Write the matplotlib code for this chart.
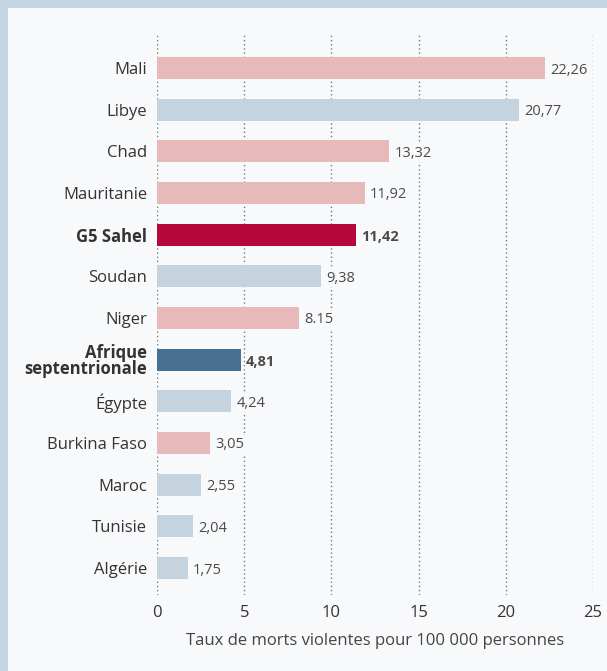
import matplotlib.pyplot as plt
import matplotlib.patches as patches
import numpy as np

plt.rcParams['font.family'] = ['Open Sans', 'DejaVu Sans']

# data
pays = ['Mali', 'Libye', 'Chad', 'Mauritanie', 'G5 Sahel', 'Soudan', 'Niger',
        'Afrique\nseptentrionale', 'Égypte', 'Burkina Faso', 'Maroc', 'Tunisie', 'Algérie']
taux = [22.26, 20.77, 13.32, 11.92, 11.42, 9.38, 8.15, 4.81, 4.24, 3.05, 2.55, 2.04, 1.75]
etiquettes = ['22,26', '20,77', '13,32', '11,92', '11,42', '9,38', '8.15',
              '4,81', '4,24', '3,05', '2,55', '2,04', '1,75']
groupe = ['sahel', 'nord', 'sahel', 'sahel', 'g5', 'nord', 'sahel',
          'afn', 'nord', 'sahel', 'nord', 'nord', 'nord']

couleurs = {'sahel': '#e8b9b9', 'nord': '#c5d3df', 'g5': '#b5083a', 'afn': '#4a7090'}
gras = ['G5 Sahel', 'Afrique\nseptentrionale']

fig = plt.figure(figsize=(6.07, 6.71), dpi=100)
fig.patch.set_facecolor('#f8f9fb')
# bordure haut/gauche
fig.patches.append(patches.Rectangle((0, 1 - 8 / 671), 1, 8 / 671, transform=fig.transFigure,
                                     facecolor='#c5d5e2', edgecolor='none', zorder=0))
fig.patches.append(patches.Rectangle((0, 0), 8 / 607, 1, transform=fig.transFigure,
                                     facecolor='#c5d5e2', edgecolor='none', zorder=0))

ax = fig.add_axes([157 / 607, 1 - 595 / 671, (593 - 157) / 607, (595 - 35) / 671])
ax.set_facecolor('none')

y = np.arange(len(pays))
ax.barh(y, taux, height=0.53, color=[couleurs[g] for g in groupe], zorder=2)

for i, (v, lab) in enumerate(zip(taux, etiquettes)):
    w = 'bold' if pays[i] in gras else 'normal'
    ax.text(v + 0.3, i + 0.05, lab, va='center', ha='left', fontsize=10.5,
            color='#4a4a4a', fontweight=w, zorder=3,
            bbox=dict(facecolor='#f8f9fb', edgecolor='none', pad=1))

ax.set_xlim(0, 25)
ax.set_ylim(len(pays) - 1 + 0.65, -0.79)
ax.set_xticks([0, 5, 10, 15, 20, 25])
ax.set_yticks(y)
ax.set_yticklabels(pays, fontsize=12, color='#333333', linespacing=0.9)
for t in ax.get_yticklabels():
    if t.get_text() in gras:
        t.set_fontweight('bold')
ax.tick_params(axis='y', length=0, pad=7)
ax.tick_params(axis='x', length=0, pad=7, labelsize=12, labelcolor='#333333')
ax.xaxis.grid(True, linestyle=(0, (1, 2)), color='#777777', linewidth=1.0, zorder=1)
for s in ax.spines.values():
    s.set_visible(False)

ax.set_xlabel('Taux de morts violentes pour 100 000 personnes', fontsize=12,
              color='#444444', labelpad=9)

fig.savefig('out.png', dpi=100, facecolor=fig.get_facecolor())
